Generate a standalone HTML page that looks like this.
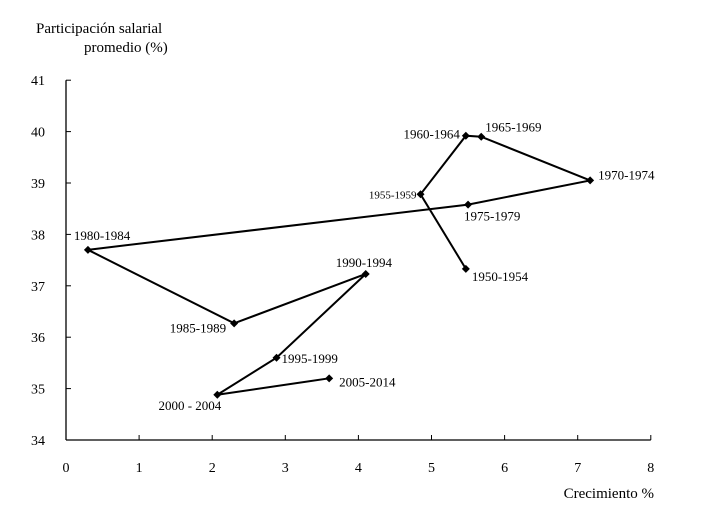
<!DOCTYPE html>
<html><head><meta charset="utf-8"><style>
body{margin:0;background:#fff}
svg{display:block;font-family:"Liberation Serif",serif}
</style></head><body>
<svg width="711" height="515">
<text x="36" y="33" font-size="15">Participación salarial</text>
<text x="84" y="52" font-size="15">promedio (%)</text>
<text x="654" y="498" font-size="15" text-anchor="end">Crecimiento %</text>
<g id="axes"></g><g id="marks"></g>
</svg>
<script>
const labels=["1950-1954","1955-1959","1960-1964","1965-1969","1970-1974","1975-1979","1980-1984","1985-1989","1990-1994","1995-1999","2000 - 2004","2005-2014"];
const growth=[5.47,4.85,5.47,5.68,7.17,5.5,0.3,2.3,4.1,2.88,2.07,3.6];
const share=[37.33,38.78,39.92,39.9,39.05,38.58,37.7,36.27,37.23,35.6,34.88,35.2];
const xTicks=[0,1,2,3,4,5,6,7,8];
const yTicks=[34,35,36,37,38,39,40,41];
const X=v=>66+v*73.1, Y=v=>440-(v-34)*51.4;
const ns="http://www.w3.org/2000/svg";
function mk(t,a,p){const e=document.createElementNS(ns,t);for(const k in a)e.setAttribute(k,a[k]);p.appendChild(e);return e;}
const ax=document.getElementById('axes'),mg=document.getElementById('marks');
const xa=mk('line',{x1:X(0),y1:Y(34),x2:X(8),y2:Y(34),stroke:'#000','stroke-width':1.3},ax);


const ya=mk('line',{x1:X(0),y1:Y(34),x2:X(0),y2:Y(41),stroke:'#000','stroke-width':1.3},ax);


xTicks.forEach(v=>{mk('line',{x1:X(v),y1:Y(34),x2:X(v),y2:Y(34)-5,stroke:'#000'},ax);
const t=mk('text',{x:X(v),y:472,'font-size':14,'text-anchor':'middle'},ax);t.textContent=v;

});
yTicks.forEach(v=>{mk('line',{x1:X(0),y1:Y(v),x2:X(0)+5,y2:Y(v),stroke:'#000'},ax);
const t=mk('text',{x:45,y:Y(v)+5,'font-size':14,'text-anchor':'end'},ax);t.textContent=v;

});
const pl=mk('polyline',{points:growth.map((g,i)=>X(g)+','+Y(share[i])).join(' '),fill:'none',stroke:'#000','stroke-width':2},mg);


const off=[[6,12,'start'],[-4,4,'end'],[-6,3,'end'],[4,-5,'start'],[8,-1,'start'],[-4,16,'start'],[-14,-10,'start'],[-8,9,'end'],[-30,-7,'start'],[5,5,'start'],[4,15,'end'],[10,8,'start']];
growth.forEach((g,i)=>{const x=X(g),y=Y(share[i]);
const d=mk('path',{d:`M${x} ${y-4}L${x+4} ${y}L${x} ${y+4}L${x-4} ${y}Z`,fill:'#000'},mg);


const t=mk('text',{x:x+off[i][0],y:y+off[i][1],'font-size':i==1?11:13,'text-anchor':off[i][2]},mg);t.textContent=labels[i];

});
</script>
</body></html>
